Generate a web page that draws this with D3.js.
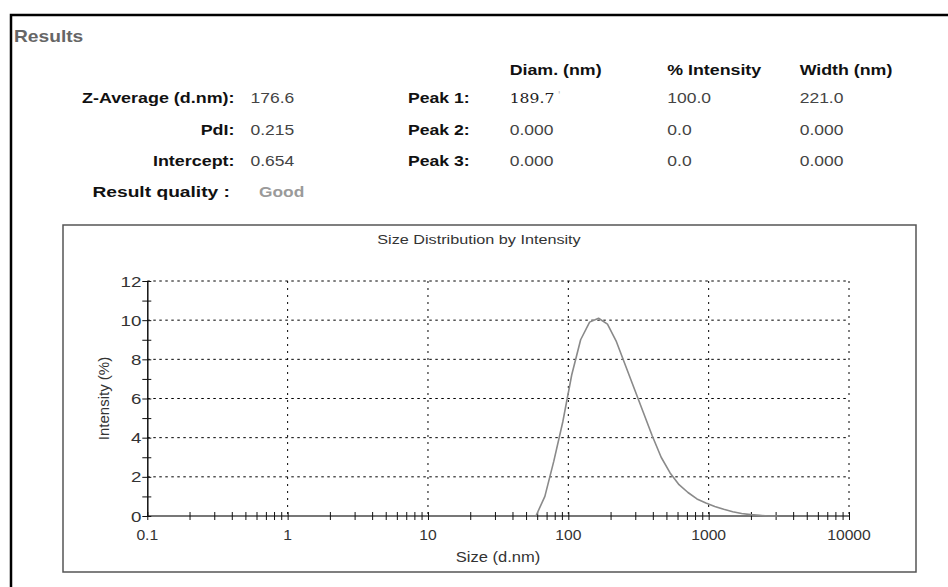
<!DOCTYPE html>
<html>
<head>
<meta charset="utf-8">
<script src="https://cdn.jsdelivr.net/npm/d3@7"></script>
<style>
  html, body { margin: 0; padding: 0; background: #fff; }
  svg { display: block; }
</style>
</head>
<body>
<script>
// ---- Summary table ----
const summaryLabels = ["Z-Average (d.nm):", "PdI:", "Intercept:"];
const summaryValues = ["176.6", "0.215", "0.654"];
const qualityLabel = "Result quality :";
const qualityValue = "Good";

const peakColumns = ["Diam. (nm)", "% Intensity", "Width (nm)"];
const peakLabels = ["Peak 1:", "Peak 2:", "Peak 3:"];
const peakDiam = ["189.7", "0.000", "0.000"];
const peakIntensity = ["100.0", "0.0", "0.0"];
const peakWidth = ["221.0", "0.000", "0.000"];

// ---- Size distribution (instrument size classes, d.nm) ----
const sizes = [50.75, 58.77, 68.06, 78.82, 91.28, 105.7, 122.4, 141.8, 164.2, 190.1,
               220.2, 255.0, 295.3, 342.0, 396.1, 458.7, 531.2, 615.1, 712.4, 825.0,
               955.4, 1106, 1281, 1484, 1718, 1990, 2305, 2669, 3091];
const intensity = [0, 0, 1.0, 2.8, 4.8, 7.2, 9.0, 9.9, 10.1, 9.8,
                   8.9, 7.7, 6.5, 5.3, 4.1, 3.0, 2.2, 1.6, 1.2, 0.87,
                   0.66, 0.48, 0.34, 0.22, 0.13, 0.07, 0.03, 0, 0];

const xTickValues = [0.1, 1, 10, 100, 1000, 10000];
const xTickLabels = ["0.1", "1", "10", "100", "1000", "10000"];
const yTickValues = [0, 2, 4, 6, 8, 10, 12];
const chartTitle = "Size Distribution by Intensity";
const xTitle = "Size (d.nm)";
const yTitle = "Intensity (%)";

// ---- Drawing ----
const W = 948, H = 587;
const FONT = "'Liberation Sans', Arial, Helvetica, sans-serif";

const svg = d3.select("body").append("svg")
  .attr("width", W).attr("height", H)
  .attr("viewBox", `0 0 ${W} ${H}`);

// text with a horizontally widened face
function label(parent, s, x, y, o = {}) {
  const t = parent.append("text")
    .attr("transform", `translate(${x},${y}) scale(${o.sx ?? 1.25},1)` + (o.rotate ? ` rotate(${o.rotate})` : ""))
    .attr("text-anchor", o.anchor || "start")
    .attr("font-family", o.family || FONT)
    .attr("font-size", o.size || 14)
    .attr("font-weight", o.weight || "normal")
    .attr("fill", o.fill || "#333")
    .text(s);
  return t;
}

// outer frame
svg.append("path")
  .attr("d", `M11,${H} V15 H${W}`)
  .attr("fill", "none").attr("stroke", "#000").attr("stroke-width", 2.5);

// header
label(svg, "Results", 14, 42, { size: 16, weight: "bold", fill: "#666", sx: 1.2 });

const colX = [509.7, 667.3, 799.7];
const rowY = [103, 134.5, 165.5];

peakColumns.forEach((c, i) =>
  label(svg, c, colX[i], 75, { weight: "bold", fill: "#111", sx: 1.27 }));

summaryLabels.forEach((s, i) =>
  label(svg, s, 234.5, rowY[i], { weight: "bold", fill: "#111", anchor: "end", sx: 1.28 }));
summaryValues.forEach((s, i) =>
  label(svg, s, 250.5, rowY[i], { fill: "#444", sx: 1.25 }));

label(svg, qualityLabel, 230, 197, { size: 15.5, weight: "bold", fill: "#111", anchor: "end", sx: 1.24 });
label(svg, qualityValue, 259, 197, { size: 15.5, weight: "bold", fill: "#9a9a9a", sx: 1.12 });

peakLabels.forEach((s, i) =>
  label(svg, s, 408, rowY[i], { weight: "bold", fill: "#111", sx: 1.26 }));

peakDiam.forEach((s, i) => {
  if (i === 0) {
    const t = label(svg, s, colX[0], rowY[i], { family: "'DejaVu Serif', serif", size: 13, fill: "#222", sx: 1.2 });
    t.append("tspan").attr("fill", "#bbb").attr("font-size", 9).attr("dy", -5).text(" '");
  } else {
    label(svg, s, colX[0], rowY[i], { fill: "#444", sx: 1.25 });
  }
});
peakIntensity.forEach((s, i) => label(svg, s, colX[1], rowY[i], { fill: "#444", sx: 1.25 }));
peakWidth.forEach((s, i) => label(svg, s, colX[2], rowY[i], { fill: "#444", sx: 1.25 }));

// chart box
svg.append("rect")
  .attr("x", 63).attr("y", 225).attr("width", 853).attr("height", 347)
  .attr("fill", "none").attr("stroke", "#555").attr("stroke-width", 1.5);

const x = d3.scaleLog().domain([0.1, 10000]).range([147.3, 849]);
const y = d3.scaleLinear().domain([0, 12]).range([516, 281]);

label(svg, chartTitle, 479, 244, { anchor: "middle", size: 13.5, sx: 1.2 });

const plot = svg.append("g");

// dotted grid
plot.append("g").selectAll("line").data(yTickValues.filter(v => v > 0)).join("line")
  .attr("x1", x(0.1)).attr("x2", x(10000))
  .attr("y1", d => y(d)).attr("y2", d => y(d))
  .attr("stroke", "#000").attr("stroke-width", 1).attr("stroke-dasharray", "2.5,3.5");
plot.append("g").selectAll("line").data(xTickValues.slice(1)).join("line")
  .attr("x1", d => x(d)).attr("x2", d => x(d))
  .attr("y1", y(12)).attr("y2", y(0))
  .attr("stroke", "#000").attr("stroke-width", 1).attr("stroke-dasharray", "2,5");

// x axis: baseline plus crossing major/minor ticks
const xMinor = [];
xTickValues.slice(0, -1).forEach(d => { for (let k = 2; k <= 9; k++) xMinor.push(d * k); });
plot.append("line")
  .attr("x1", x(0.1)).attr("x2", x(10000)).attr("y1", y(0)).attr("y2", y(0))
  .attr("stroke", "#777").attr("stroke-width", 2);
const xAxis = plot.append("g").attr("transform", `translate(0,${y(0)})`)
  .call(d3.axisBottom(x).tickValues(xTickValues.concat(xMinor)).tickFormat("").tickSizeOuter(0));
xAxis.select(".domain").remove();
xAxis.selectAll(".tick line").attr("y1", -4).attr("y2", 4).attr("stroke", "#111");

xTickValues.forEach((v, i) =>
  label(plot, xTickLabels[i], x(v), y(0) + 23.5, { anchor: "middle", size: 14, sx: 1.12 }));

// y axis with ticks at every unit, labels at even values
const yAxis = plot.append("g").attr("transform", `translate(${x(0.1)},0)`)
  .call(d3.axisLeft(y).tickValues(d3.range(0, 13, 1)).tickFormat("").tickSizeOuter(0));
yAxis.select(".domain").attr("stroke", "#111").attr("stroke-width", 1.5);
yAxis.selectAll(".tick line").attr("x1", -5).attr("x2", 4).attr("stroke", "#111");

yTickValues.forEach(v =>
  label(plot, String(v), x(0.1) - 6, y(v) + 5.5, { anchor: "end", size: 15, sx: 1.25 }));

label(plot, xTitle, 498, 562, { anchor: "middle", size: 14, sx: 1.18 });
label(plot, yTitle, 109, 398.5, { anchor: "middle", size: 15, sx: 1, rotate: -90 });

// distribution curve
const line = d3.line().x((d, i) => x(sizes[i])).y(d => y(d));
plot.append("path")
  .datum(intensity)
  .attr("d", line)
  .attr("fill", "none").attr("stroke", "#8a8a8a").attr("stroke-width", 1.6)
  .attr("stroke-linejoin", "round");
</script>
</body>
</html>
